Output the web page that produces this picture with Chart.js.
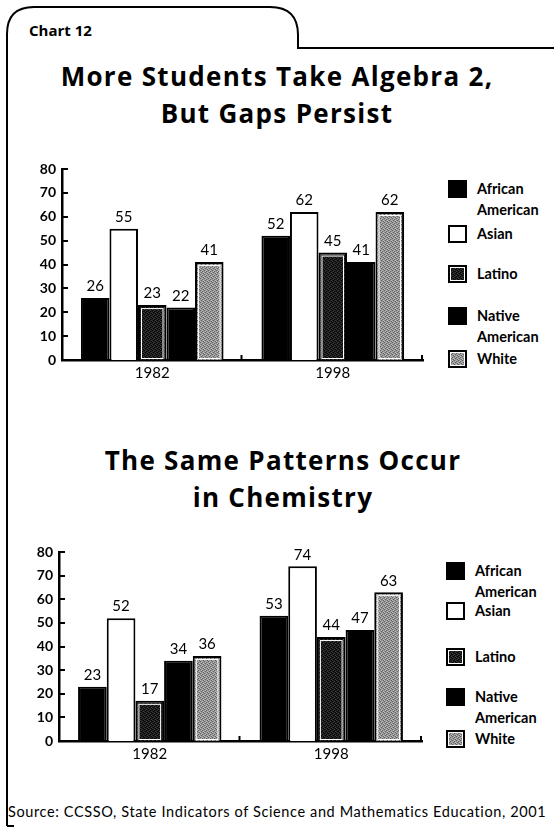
<!DOCTYPE html>
<html>
<head>
<meta charset="utf-8">
<script src="https://cdn.jsdelivr.net/npm/chart.js@4.4.1/dist/chart.umd.min.js"></script>
<style>
  html, body { margin: 0; padding: 0; background: #fff; }
  #page { position: relative; width: 554px; height: 829px; overflow: hidden; font-family: Lato, "Open Sans", sans-serif; color: #000; }
  #frame { position: absolute; left: 0; top: 0; }
  .tag { position: absolute; left: 29px; top: 20px; font-family: "Open Sans", sans-serif; font-weight: bold; font-size: 15px; }
  .title { position: absolute; left: 0; width: 554px; text-align: center; font-family: "Open Sans", sans-serif; font-weight: bold; font-size: 26px; letter-spacing: 1.3px; line-height: 37px; }
  canvas.plot { position: absolute; left: 0; }
  .sw { position: absolute; width: 19px; height: 18px; box-sizing: border-box; }
  .lt { position: absolute; font-weight: bold; font-size: 14.5px; line-height: 21px; white-space: nowrap; }
  .source { position: absolute; left: 8px; top: 803px; font-size: 14.5px; letter-spacing: 0.62px; white-space: nowrap; }
</style>
</head>
<body>
<div id="page">
  <svg id="frame" width="554" height="829">
    <path d="M7 826 L7 34 Q7 7 34 7 L270 7 Q298 7 298 35 L298 48 L554 48" fill="none" stroke="#000" stroke-width="2"/>
    <path d="M7 826 L14 826" fill="none" stroke="#000" stroke-width="2"/>
  </svg>
  <div class="tag">Chart 12</div>
  <div class="title" style="top:58px">More Students Take Algebra 2,<br>But Gaps Persist</div>
  <canvas id="c1" class="plot" width="430" height="235" style="top:150px"></canvas>
  <div id="leg1"></div>
  <div class="title" style="top:442px;left:6px">The Same Patterns Occur<br>in Chemistry</div>
  <canvas id="c2" class="plot" width="428" height="233" style="top:533px"></canvas>
  <div id="leg2"></div>
  <div class="source">Source: CCSSO, State Indicators of Science and Mathematics Education, 2001</div>
</div>
<script>
// categories and series
const years = ['1982', '1998'];
const groups = ['African American', 'Asian', 'Latino', 'Native American', 'White'];

// Algebra 2 (percent)
const algebraAfricanAmerican = [26, 52];
const algebraAsian = [55, 62];
const algebraLatino = [23, 45];
const algebraNativeAmerican = [22, 41];
const algebraWhite = [41, 62];

// Chemistry (percent)
const chemAfricanAmerican = [23, 53];
const chemAsian = [52, 74];
const chemLatino = [17, 44];
const chemNativeAmerican = [34, 47];
const chemWhite = [36, 63];

const yTicks = [0, 10, 20, 30, 40, 50, 60, 70, 80];

// small dotted tiles for the shaded bars
function makeTile(base, dark, light) {
  const c = document.createElement('canvas');
  c.width = 4; c.height = 4;
  const g = c.getContext('2d');
  g.fillStyle = base; g.fillRect(0, 0, 4, 4);
  g.fillStyle = dark;
  [[0, 0], [2, 1], [1, 2], [3, 3]].forEach(p => g.fillRect(p[0], p[1], 1, 1));
  g.fillStyle = light;
  [[2, 0], [0, 3], [3, 2], [1, 1]].forEach(p => g.fillRect(p[0], p[1], 1, 1));
  return c;
}
const latinoTile = makeTile('#1c1c1c', '#000', '#3c3c3c');
const whiteTile = makeTile('#959595', '#606060', '#bdbdbd');
const probe = document.createElement('canvas').getContext('2d');
const latinoFill = probe.createPattern(latinoTile, 'repeat');
const whiteFill = probe.createPattern(whiteTile, 'repeat');

const styles = [
  { bg: '#000', inner: false },
  { bg: '#fff', inner: false },
  { bg: latinoFill, inner: true, tile: latinoTile },
  { bg: '#000', inner: false },
  { bg: whiteFill, inner: true, tile: whiteTile }
];

// value labels, inner white edge and inward ticks
const marksPlugin = {
  id: 'marks',
  afterDatasetsDraw(chart) {
    const ctx = chart.ctx;
    ctx.save();
    chart.data.datasets.forEach((ds, i) => {
      const meta = chart.getDatasetMeta(i);
      meta.data.forEach((bar, j) => {
        const p = bar.getProps(['x', 'y', 'base', 'width'], true);
        if (styles[i].inner) {
          ctx.strokeStyle = '#fff';
          ctx.lineWidth = 1;
          ctx.strokeRect(p.x - p.width / 2 + 3.5, p.y + 3.5, p.width - 7, p.base - p.y - 5);
        }
        ctx.fillStyle = '#000';
        ctx.font = '15px Lato, "Open Sans", sans-serif';
        ctx.textAlign = 'center';
        ctx.textBaseline = 'bottom';
        ctx.fillText(ds.data[j], p.x, p.y - 4);
      });
    });
    ctx.restore();
  },
  afterDraw(chart) {
    const ctx = chart.ctx;
    const ys = chart.scales.y;
    const a = chart.chartArea;
    ctx.save();
    ctx.strokeStyle = '#000';
    ctx.lineWidth = 2;
    ctx.beginPath();
    yTicks.forEach(v => {
      const py = Math.round(ys.getPixelForValue(v));
      ctx.moveTo(a.left, py);
      ctx.lineTo(a.left + 6, py);
    });
    const step = (a.right - a.left) / years.length;
    for (let k = 1; k <= years.length; k++) {
      const px = a.left + step * k - 1;
      ctx.moveTo(px, a.bottom);
      ctx.lineTo(px, a.bottom - 5);
    }
    ctx.stroke();
    ctx.restore();
  }
};

function buildChart(id, series, geo) {
  return new Chart(document.getElementById(id), {
    type: 'bar',
    data: {
      labels: years,
      datasets: series.map((values, i) => ({
        label: groups[i],
        data: values,
        backgroundColor: styles[i].bg,
        borderColor: '#000',
        borderWidth: 2,
        barPercentage: 1,
        categoryPercentage: 0.79
      }))
    },
    options: {
      responsive: false,
      animation: false,
      devicePixelRatio: 1,
      layout: { padding: { top: geo.top, right: geo.right, left: 0, bottom: 0 } },
      plugins: { legend: { display: false }, tooltip: { enabled: false }, title: { display: false } },
      scales: {
        x: {
          grid: { display: false, drawTicks: false },
          border: { display: true, color: '#000', width: 2.5 },
          ticks: { color: '#000', font: { family: 'Lato', size: 15 }, padding: 4 },
          afterFit: s => { s.height = 25; }
        },
        y: {
          min: 0, max: 80,
          afterBuildTicks: s => { s.ticks = yTicks.map(v => ({ value: v })); },
          grid: { display: false, drawTicks: false },
          border: { display: true, color: '#000', width: 2.5 },
          ticks: { color: '#000', font: { family: 'Lato', size: 14, weight: 'bold' }, padding: 6 },
          afterFit: s => { s.width = geo.yw; }
        }
      }
    },
    plugins: [marksPlugin]
  });
}

buildChart('c1', [algebraAfricanAmerican, algebraAsian, algebraLatino, algebraNativeAmerican, algebraWhite],
  { top: 19, right: 7, yw: 62 });
buildChart('c2', [chemAfricanAmerican, chemAsian, chemLatino, chemNativeAmerican, chemWhite],
  { top: 19, right: 6, yw: 59 });

// legends beside each chart
function buildLegend(id, left, textLeft, tops) {
  const box = document.getElementById(id);
  groups.forEach((name, i) => {
    const sw = document.createElement('div');
    sw.className = 'sw';
    sw.style.left = left + 'px';
    sw.style.top = tops[i] + 'px';
    if (styles[i].tile) {
      sw.style.background = 'url(' + styles[i].tile.toDataURL() + ')';
      sw.style.border = '2px solid #000';
      sw.style.boxShadow = 'inset 0 0 0 1px #fff';
    } else if (styles[i].bg === '#fff') {
      sw.style.background = '#fff';
      sw.style.border = '2px solid #000';
    } else {
      sw.style.background = styles[i].bg;
    }
    box.appendChild(sw);
    const t = document.createElement('div');
    t.className = 'lt';
    t.style.left = textLeft + 'px';
    t.style.top = (tops[i] - 2) + 'px';
    t.innerHTML = name.replace(' ', '<br>');
    box.appendChild(t);
  });
}
buildLegend('leg1', 448, 477, [180, 225, 265, 307, 350]);
buildLegend('leg2', 446, 475, [562, 602, 648, 688, 730]);
</script>
</body>
</html>
